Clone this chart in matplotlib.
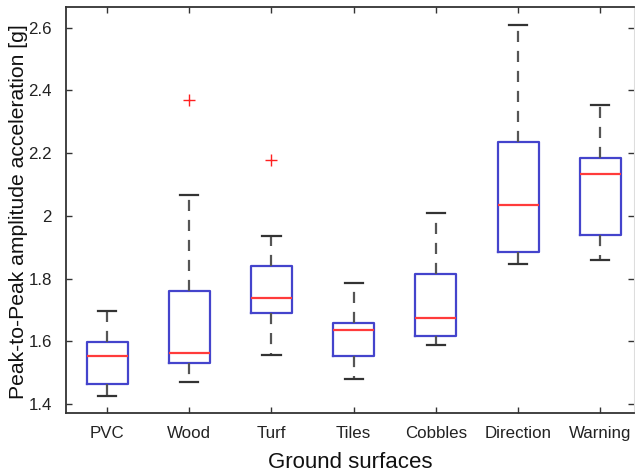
import matplotlib
matplotlib.use("Agg")
import matplotlib.pyplot as plt

# Box statistics
surfaces = ["PVC", "Wood", "Turf", "Tiles", "Cobbles", "Direction", "Warning"]
whisker_low = [1.425, 1.470, 1.555, 1.478, 1.588, 1.845, 1.860]
q1 = [1.463, 1.530, 1.689, 1.553, 1.616, 1.883, 1.939]
median = [1.553, 1.562, 1.738, 1.636, 1.675, 2.034, 2.132]
q3 = [1.596, 1.760, 1.840, 1.659, 1.814, 2.235, 2.183]
whisker_high = [1.696, 2.067, 1.934, 1.785, 2.009, 2.610, 2.355]
outliers = [[], [2.370], [2.179], [], [], [], []]

plt.rcParams['font.family'] = ['Liberation Sans', 'DejaVu Sans']

stats = []
for i in range(len(surfaces)):
    stats.append({"whislo": whisker_low[i], "q1": q1[i], "med": median[i],
                  "q3": q3[i], "whishi": whisker_high[i], "fliers": outliers[i],
                  "label": surfaces[i]})

fig = plt.figure(figsize=(6.35, 4.73), dpi=100)
ax = fig.add_axes([66 / 635, 60 / 473, 568 / 635, 406 / 473])

ax.bxp(stats, widths=0.5, capwidths=0.22,
       boxprops=dict(color="#4444cc", linewidth=1.6),
       medianprops=dict(color="#ff3b3b", linewidth=1.6),
       whiskerprops=dict(color="#555555", linewidth=1.6, linestyle=(0, (5, 4))),
       capprops=dict(color="#333333", linewidth=1.6),
       flierprops=dict(marker="+", markeredgecolor="#ff2020", markersize=8,
                       markeredgewidth=1.0, linestyle="none"))

ax.set_xlim(0.5, 7.41)
ax.set_ylim(1.371, 2.666)
ax.set_yticks([1.4, 1.6, 1.8, 2.0, 2.2, 2.4, 2.6])
ax.set_yticklabels(["1.4", "1.6", "1.8", "2", "2.2", "2.4", "2.6"])
ax.tick_params(direction="in", length=4, width=1.0, color="#333333",
               top=True, right=True, labelsize=12.2, labelcolor="#222222")
ax.tick_params(axis="y", pad=10)
ax.tick_params(axis="x", pad=9)
for side in ["left", "bottom", "top"]:
    ax.spines[side].set_color("#333333")
    ax.spines[side].set_linewidth(1.3)
ax.spines["right"].set_color("#dddddd")

ax.set_xlabel("Ground surfaces", fontsize=16, color="#111111", labelpad=8)
ax.set_ylabel("Peak-to-Peak amplitude acceleration [g]", fontsize=15.2,
              color="#111111")
ax.yaxis.set_label_coords(-0.067, 0.497)

fig.savefig("out.png", dpi=100)
